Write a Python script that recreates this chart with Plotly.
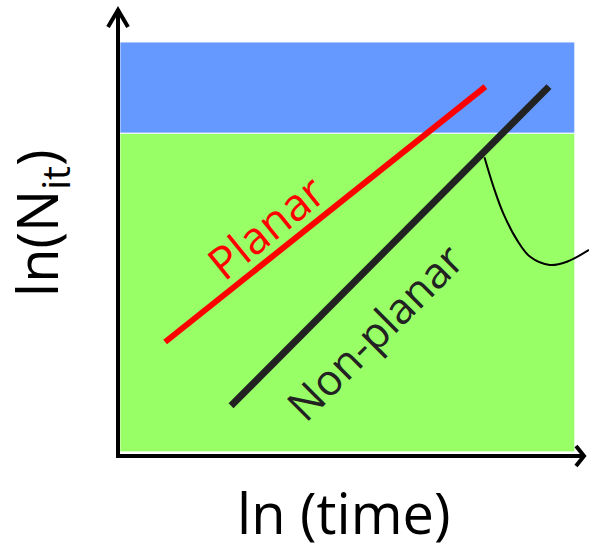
import plotly.graph_objects as go

# Data (arbitrary log units)
planar_x = [1.0, 7.8]
planar_y = [2.5, 8.1]
nonplanar_x = [2.4, 9.15]
nonplanar_y = [1.1, 8.1]
curve_x = [7.78, 7.97, 8.18, 8.47, 8.75, 9.17, 9.53, 10.0]
curve_y = [6.55, 5.91, 5.32, 4.74, 4.37, 4.19, 4.26, 4.52]
region_x = [0.04, 9.70]
green_y = [0.09, 7.08]
blue_y = [7.08, 9.08]

FONT = "Open Sans"
FW, FH = 589.0, 545.0

def px(x):
    return x / FW
def py(y):
    return (FH - y) / FH

fig = go.Figure()

# regions
fig.add_shape(type="rect", xref="x", yref="y", x0=region_x[0], x1=region_x[1],
              y0=green_y[0], y1=green_y[1], fillcolor="#99FF66",
              line=dict(color="white", width=1), layer="below")
fig.add_shape(type="rect", xref="x", yref="y", x0=region_x[0], x1=region_x[1],
              y0=blue_y[0], y1=blue_y[1], fillcolor="#6699FF",
              line=dict(color="white", width=1), layer="below")

fig.add_trace(go.Scatter(x=planar_x, y=planar_y, mode="lines",
                         line=dict(color="#FF0000", width=6), hoverinfo="skip"))
fig.add_trace(go.Scatter(x=nonplanar_x, y=nonplanar_y, mode="lines",
                         line=dict(color="#222222", width=7), hoverinfo="skip"))
fig.add_trace(go.Scatter(x=curve_x, y=curve_y, mode="lines", line_shape="spline",
                         line=dict(color="black", width=2), hoverinfo="skip",
                         cliponaxis=False))

# axes with open arrowheads (paper coords)
ax_col = "black"
ax_w = 4
fig.add_shape(type="path", xref="paper", yref="paper",
              path=f"M {px(118)},{py(456)} L {px(118)},{py(9)}",
              line=dict(color=ax_col, width=ax_w))
fig.add_shape(type="path", xref="paper", yref="paper",
              path=f"M {px(108)},{py(27)} L {px(118)},{py(10)} L {px(128)},{py(27)}",
              line=dict(color=ax_col, width=ax_w))
fig.add_shape(type="path", xref="paper", yref="paper",
              path=f"M {px(116)},{py(456)} L {px(584)},{py(456)}",
              line=dict(color=ax_col, width=ax_w))
fig.add_shape(type="path", xref="paper", yref="paper",
              path=f"M {px(576)},{py(446)} L {px(584)},{py(456)} L {px(576)},{py(466)}",
              line=dict(color=ax_col, width=ax_w))

# labels
fig.add_annotation(x=3.12, y=5.04, xref="x", yref="y", text="Planar", showarrow=False,
                   textangle=-39, font=dict(family=FONT, size=45, color="#FF0000"))
fig.add_annotation(x=5.45, y=2.72, xref="x", yref="y", text="Non-planar", showarrow=False,
                   textangle=-45, font=dict(family=FONT, size=43, color="#222222"))
fig.add_annotation(x=px(343), y=py(512), xref="paper", yref="paper", text="ln (time)",
                   showarrow=False, xanchor="center", yanchor="middle",
                   font=dict(family=FONT, size=56, color="black"))
fig.add_annotation(x=px(40), y=py(223), xref="paper", yref="paper",
                   text="ln(N<sub>it</sub>)", textangle=-90,
                   xanchor="center", yanchor="middle",
                   showarrow=False, font=dict(family=FONT, size=56, color="black"))

fig.update_layout(
    width=589, height=545,
    margin=dict(l=0, r=0, t=0, b=0),
    plot_bgcolor="white", paper_bgcolor="white",
    showlegend=False,
    xaxis=dict(range=[0, 10], domain=[118 / FW, 1], visible=False, fixedrange=True),
    yaxis=dict(range=[0, 10], domain=[89 / FH, 1], visible=False, fixedrange=True),
)

fig.write_html("out.html", config={"displayModeBar": False})
